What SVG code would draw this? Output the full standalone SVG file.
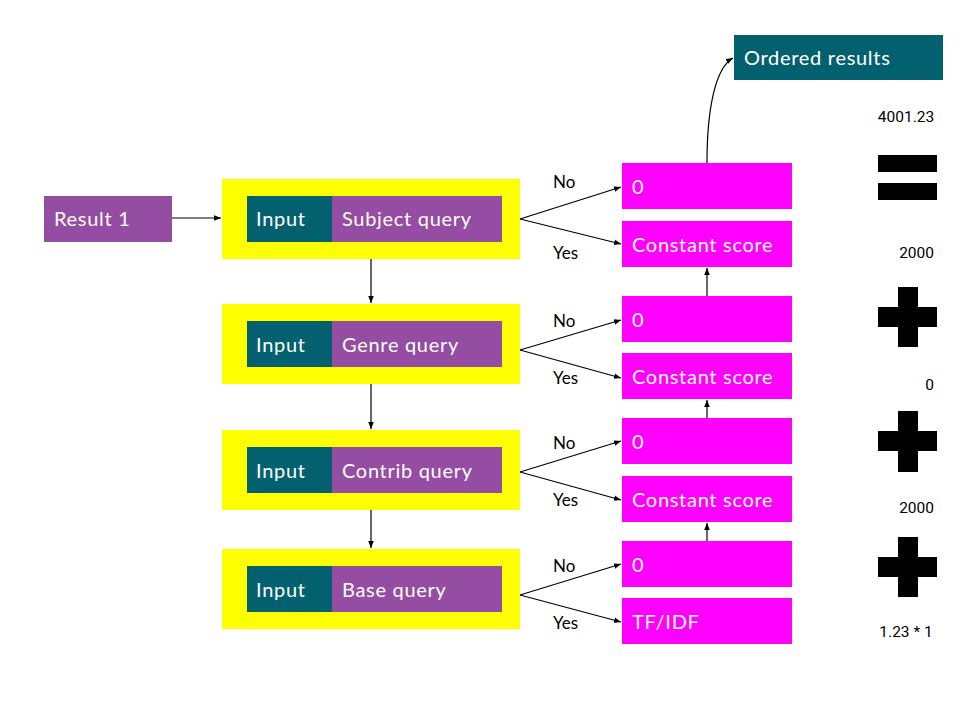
<svg xmlns="http://www.w3.org/2000/svg" width="960" height="720" viewBox="0 0 960 720">
<defs>
<marker id="ah" viewBox="0 0 10 10" refX="10" refY="5" markerWidth="7" markerHeight="7" markerUnits="userSpaceOnUse" orient="auto">
<path d="M0,1 L10,5 L0,9 z" fill="#000"/>
</marker>
<style>
.yel{fill:#ffff00}
.teal{fill:#03616f}
.pur{fill:#954ca3}
.mag{fill:#ff00ff}
.lbl{font-family:"Lato","Open Sans",sans-serif;font-size:20px;letter-spacing:0.7px;fill:#ffffff}
.yn{font-family:"Lato","Open Sans",sans-serif;font-size:17px;fill:#000}
.num{font-family:"Roboto","Inter",sans-serif;font-size:15.5px;fill:#000}
.blk{fill:#000}
.con{stroke:#000;stroke-width:1.2;fill:none;marker-end:url(#ah)}
</style>
</defs>
<rect width="960" height="720" fill="#fff"/>

<g id="result1"><rect class="pur" x="44" y="196" width="128" height="46"/><text class="lbl" x="54" y="226">Result 1</text></g>

<g id="subject"><rect class="yel" x="222" y="179" width="298" height="80"/><rect class="teal" x="247" y="196" width="86" height="46"/><rect class="pur" x="332" y="196" width="170" height="46"/><text class="lbl" x="256" y="226">Input</text><text class="lbl" x="342" y="226">Subject query</text></g>
<g id="genre"><rect class="yel" x="222" y="304" width="298" height="80"/><rect class="teal" x="247" y="321" width="86" height="46"/><rect class="pur" x="332" y="321" width="170" height="46"/><text class="lbl" x="256" y="352">Input</text><text class="lbl" x="342" y="352">Genre query</text></g>
<g id="contrib"><rect class="yel" x="222" y="430" width="298" height="80"/><rect class="teal" x="247" y="447" width="86" height="46"/><rect class="pur" x="332" y="447" width="170" height="46"/><text class="lbl" x="256" y="478">Input</text><text class="lbl" x="342" y="478">Contrib query</text></g>
<g id="base"><rect class="yel" x="222" y="549" width="298" height="80"/><rect class="teal" x="247" y="566" width="86" height="46"/><rect class="pur" x="332" y="566" width="170" height="46"/><text class="lbl" x="256" y="597">Input</text><text class="lbl" x="342" y="597">Base query</text></g>

<g id="s0"><rect class="mag" x="622" y="163" width="170" height="46"/><text class="lbl" x="632" y="194">0</text></g>
<g id="sc"><rect class="mag" x="622" y="221" width="170" height="46"/><text class="lbl" x="632" y="252">Constant score</text></g>
<g id="g0"><rect class="mag" x="622" y="296" width="170" height="46"/><text class="lbl" x="632" y="327">0</text></g>
<g id="gc"><rect class="mag" x="622" y="353" width="170" height="46"/><text class="lbl" x="632" y="384">Constant score</text></g>
<g id="c0"><rect class="mag" x="622" y="418" width="170" height="46"/><text class="lbl" x="632" y="449">0</text></g>
<g id="cc"><rect class="mag" x="622" y="476" width="170" height="46"/><text class="lbl" x="632" y="507">Constant score</text></g>
<g id="b0"><rect class="mag" x="622" y="541" width="170" height="46"/><text class="lbl" x="632" y="572">0</text></g>
<g id="bt"><rect class="mag" x="622" y="598" width="170" height="46"/><text class="lbl" x="632" y="629">TF/IDF</text></g>

<g id="ordered"><rect class="teal" x="734" y="35" width="209" height="45"/><text class="lbl" x="744" y="65">Ordered results</text></g>

<g id="connectors">
<line class="con" x1="172" y1="218" x2="221" y2="218"/>
<line class="con" x1="371" y1="259" x2="371" y2="303"/>
<line class="con" x1="371" y1="384" x2="371" y2="429"/>
<line class="con" x1="371" y1="510" x2="371" y2="548"/>
<line class="con" x1="520" y1="219" x2="621" y2="187"/>
<line class="con" x1="520" y1="219" x2="621" y2="244"/>
<line class="con" x1="520" y1="350" x2="621" y2="320"/>
<line class="con" x1="520" y1="350" x2="621" y2="378"/>
<line class="con" x1="520" y1="472" x2="621" y2="441"/>
<line class="con" x1="520" y1="472" x2="621" y2="500"/>
<line class="con" x1="520" y1="595" x2="621" y2="564"/>
<line class="con" x1="520" y1="595" x2="621" y2="622"/>
<line class="con" x1="707" y1="296" x2="707" y2="268"/>
<line class="con" x1="707" y1="418" x2="707" y2="400"/>
<line class="con" x1="707" y1="541" x2="707" y2="523"/>
<path class="con" d="M707,163 C707,110 715,68 733,58"/>
<text class="yn" x="553" y="188">No</text>
<text class="yn" x="553" y="259">Yes</text>
<text class="yn" x="553" y="327">No</text>
<text class="yn" x="553" y="384">Yes</text>
<text class="yn" x="553" y="449">No</text>
<text class="yn" x="553" y="506">Yes</text>
<text class="yn" x="553" y="572">No</text>
<text class="yn" x="553" y="629">Yes</text>
</g>

<g id="sum">
<text class="num" x="906" y="122" text-anchor="middle">4001.23</text>
<rect class="blk" x="878" y="155" width="59" height="17"/>
<rect class="blk" x="878" y="183" width="59" height="17"/>
<text class="num" x="934" y="258" text-anchor="end">2000</text>
<path class="blk" d="M898,287 H918 V307 H937 V327 H918 V347 H898 V327 H878 V307 H898 z"/>
<text class="num" x="934" y="390" text-anchor="end">0</text>
<path class="blk" d="M898,411 H918 V431 H937 V451 H918 V472 H898 V451 H878 V431 H898 z"/>
<text class="num" x="934" y="513" text-anchor="end">2000</text>
<path class="blk" d="M898,537 H918 V557 H937 V577 H918 V597 H898 V577 H878 V557 H898 z"/>
<text class="num" x="906" y="637" text-anchor="middle">1.23 * 1</text>
</g>
</svg>
